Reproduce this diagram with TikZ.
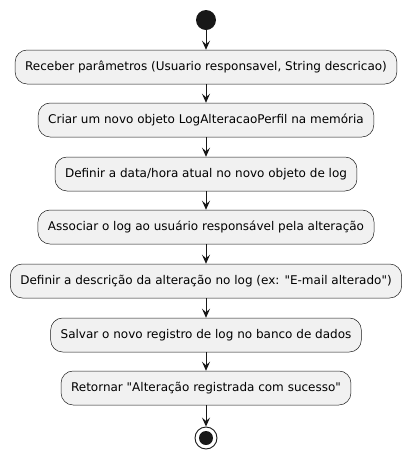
\documentclass[tikz,border=0pt]{standalone}
\usepackage{fontspec}
\setmainfont{DejaVu Sans}[Ligatures=TeXOff]
\usetikzlibrary{arrows.meta}

\begin{document}
\begin{tikzpicture}[x=1pt, y=-1pt, >={Stealth[length=9pt,width=8pt,inset=3.5pt]},
  every node/.style={font=\fontsize{12}{14}\selectfont}]
  % Define colors
  \definecolor{linecol}{HTML}{181818}
  \definecolor{boxcol}{HTML}{F1F1F1}
  \tikzset{
    actbox/.style={draw=linecol, fill=boxcol, line width=0.5pt, rounded corners=12pt,
      minimum height=34pt, inner xsep=10pt, text=black},
    flow/.style={->, draw=linecol, line width=0.9pt}
  }

  % Canvas
  \useasboundingbox (0,0) rectangle (411,459);

  % Start and stop
  \fill[linecol] (206,20) circle (10);
  \node[circle, minimum size=20pt, inner sep=0pt] (startn) at (206,20) {};
  \node[circle, draw=linecol, line width=0.9pt, minimum size=22pt, inner sep=0pt] (stop) at (206,438) {};
  \fill[linecol] (stop.center) circle (7);

  % Activities
  \node[actbox] (recv) at (206,67) {Receber parâmetros (Usuario responsavel, String descricao)};
  \node[actbox] (criar) at (206,120) {Criar um novo objeto LogAlteracaoPerfil na memória};
  \node[actbox] (data) at (206,174) {Definir a data/hora atual no novo objeto de log};
  \node[actbox] (assoc) at (206,227) {Associar o log ao usuário responsável pela alteração};
  \node[actbox] (desc) at (206,281) {Definir a descrição da alteração no log (ex: "E-mail alterado")};
  \node[actbox] (salvar) at (206,335) {Salvar o novo registro de log no banco de dados};
  \node[actbox] (ret) at (206,388) {Retornar "Alteração registrada com sucesso"};

  % Flow
  \draw[flow] (startn) -- (recv);
  \draw[flow] (recv) -- (criar);
  \draw[flow] (criar) -- (data);
  \draw[flow] (data) -- (assoc);
  \draw[flow] (assoc) -- (desc);
  \draw[flow] (desc) -- (salvar);
  \draw[flow] (salvar) -- (ret);
  \draw[flow] (ret) -- (stop);
\end{tikzpicture}
\end{document}
